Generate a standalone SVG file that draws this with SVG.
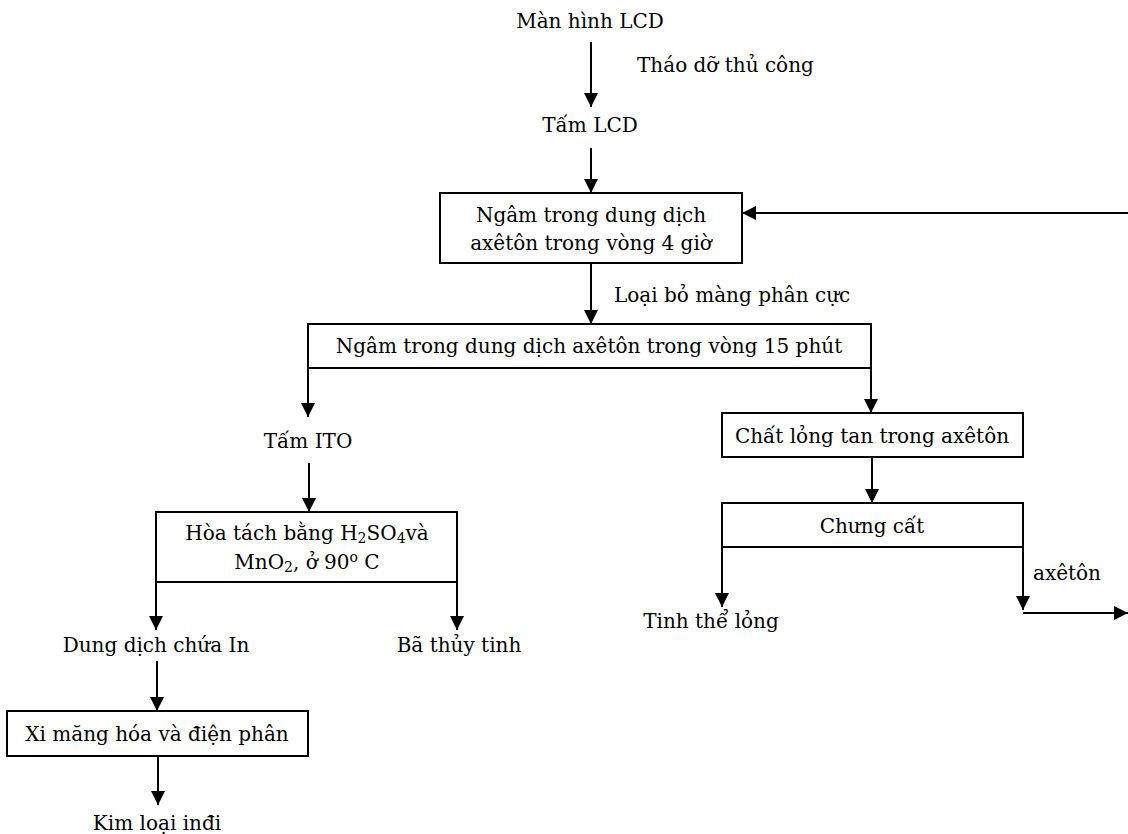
<svg xmlns="http://www.w3.org/2000/svg" width="1128" height="834" viewBox="0 0 1128 834">
<defs>
<marker id="ah" viewBox="0 0 14 21" refX="14" refY="10.5" markerWidth="14" markerHeight="21" markerUnits="userSpaceOnUse" orient="auto">
<path d="M0,3.5 L14,10.5 L0,17.5 Z" fill="#000"/>
</marker>
<style>
text{font-family:"DejaVu Serif","Liberation Serif",serif;font-size:20px;fill:#000;text-anchor:middle}
.l{text-anchor:start}
rect{fill:#fff;stroke:#000;stroke-width:2}
.c line{stroke:#000;stroke-width:2;fill:none}
.s{font-size:14px}
</style>
</defs>
<rect x="0" y="0" width="1128" height="834" style="fill:#fff;stroke:none"/>
<g class="c" id="connectors">
<line x1="591" y1="42" x2="591" y2="107" marker-end="url(#ah)"/>
<line x1="591" y1="148" x2="591" y2="193" marker-end="url(#ah)"/>
<line x1="1128" y1="213" x2="742" y2="213" marker-end="url(#ah)"/>
<line x1="591" y1="263" x2="591" y2="324" marker-end="url(#ah)"/>
<line x1="308" y1="368" x2="308" y2="417" marker-end="url(#ah)"/>
<line x1="871" y1="368" x2="871" y2="413" marker-end="url(#ah)"/>
<line x1="309" y1="463" x2="309" y2="512" marker-end="url(#ah)"/>
<line x1="872" y1="457" x2="872" y2="503" marker-end="url(#ah)"/>
<line x1="156" y1="582" x2="156" y2="630" marker-end="url(#ah)"/>
<line x1="457" y1="582" x2="457" y2="630" marker-end="url(#ah)"/>
<line x1="722" y1="547" x2="722" y2="607" marker-end="url(#ah)"/>
<line x1="1023" y1="547" x2="1023" y2="610" marker-end="url(#ah)"/>
<line x1="1023" y1="613" x2="1128" y2="613" marker-end="url(#ah)"/>
<line x1="157" y1="661" x2="157" y2="711" marker-end="url(#ah)"/>
<line x1="158" y1="756" x2="158" y2="805" marker-end="url(#ah)"/>
</g>
<g id="n-manhinh"><text x="590" y="28">Màn hình LCD</text></g>
<g id="lbl-thao"><text class="l" x="637" y="72">Tháo dỡ thủ công</text></g>
<g id="n-tamlcd"><text x="590" y="132">Tấm LCD</text></g>
<g id="n-ngam4"><rect x="440" y="193" width="302" height="70"/>
<text x="591" y="222">Ngâm trong dung dịch</text>
<text x="591" y="250">axêtôn trong vòng 4 giờ</text></g>
<g id="lbl-loai"><text class="l" x="614" y="302">Loại bỏ màng phân cực</text></g>
<g id="n-ngam15"><rect x="308" y="324" width="563" height="44"/>
<text x="589" y="353">Ngâm trong dung dịch axêtôn trong vòng 15 phút</text></g>
<g id="n-ito"><text x="308" y="448">Tấm ITO</text></g>
<g id="n-chatlong"><rect x="722" y="413" width="301" height="44"/>
<text x="872" y="443">Chất lỏng tan trong axêtôn</text></g>
<g id="n-hoatach"><rect x="156" y="512" width="301" height="70"/>
<text x="307" y="540">Hòa tách bằng H<tspan class="s" dy="3">2</tspan><tspan dy="-3">SO</tspan><tspan class="s" dy="3">4</tspan><tspan dy="-3">và</tspan></text>
<text x="307" y="569">MnO<tspan class="s" dy="3">2</tspan><tspan dy="-3">, ở 90</tspan><tspan class="s" dy="-7">o</tspan><tspan dy="7"> C</tspan></text></g>
<g id="n-chungcat"><rect x="722" y="503" width="301" height="44"/>
<text x="872" y="533">Chưng cất</text></g>
<g id="lbl-axeton"><text class="l" x="1033" y="580">axêtôn</text></g>
<g id="n-tinhthe"><text x="711" y="628">Tinh thể lỏng</text></g>
<g id="n-dungdich"><text x="156" y="652">Dung dịch chứa In</text></g>
<g id="n-bathuy"><text x="459" y="652">Bã thủy tinh</text></g>
<g id="n-ximang"><rect x="7" y="711" width="301" height="45"/>
<text x="157" y="741">Xi măng hóa và điện phân</text></g>
<g id="n-kimloai"><text x="157" y="830">Kim loại inđi</text></g>
</svg>
